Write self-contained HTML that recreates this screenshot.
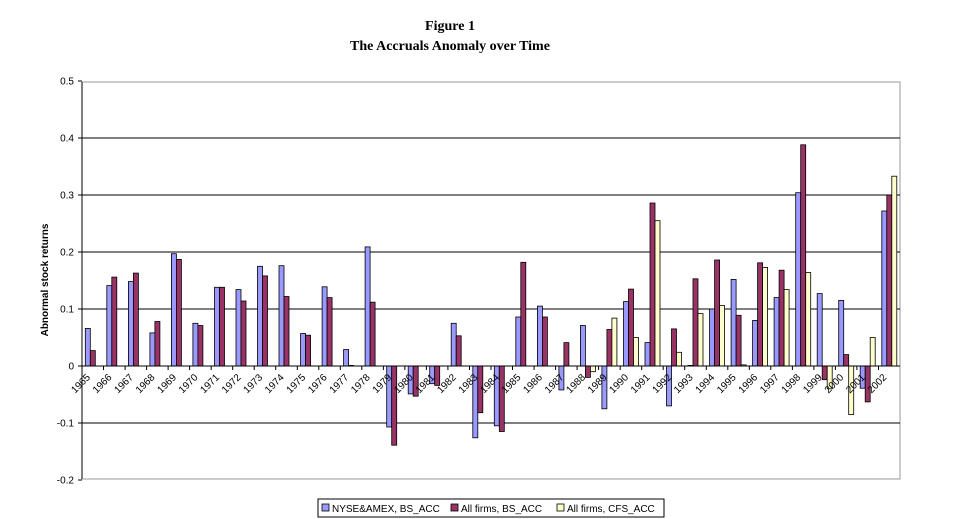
<!DOCTYPE html>
<html><head><meta charset="utf-8"><style>body{margin:0;background:#fff}svg{display:block}</style></head>
<body>
<svg id="c" width="959" height="519" xmlns="http://www.w3.org/2000/svg" font-family="Liberation Sans, sans-serif">
<g id="g"></g>
<text x="450" y="30" text-anchor="middle" style="font-family:'Liberation Serif',serif;font-weight:bold;font-size:14px">Figure 1</text>
<text x="450" y="50" text-anchor="middle" style="font-family:'Liberation Serif',serif;font-weight:bold;font-size:14px">The Accruals Anomaly over Time</text>
<text transform="translate(48,280) rotate(-90)" text-anchor="middle" font-weight="bold" font-size="10">Abnormal stock returns</text>
<rect x="318" y="499" width="346" height="18" fill="#fff" stroke="#000" stroke-width="1"/>
<rect x="322" y="504" width="7" height="7" fill="#9999ff" stroke="#000" stroke-width="0.8"/>
<text x="332" y="512" font-size="10">NYSE&amp;AMEX, BS_ACC</text>
<rect x="451" y="504" width="7" height="7" fill="#993366" stroke="#000" stroke-width="0.8"/>
<text x="461" y="512" font-size="10">All firms, BS_ACC</text>
<rect x="557" y="504" width="7" height="7" fill="#ffffcc" stroke="#000" stroke-width="0.8"/>
<text x="567" y="512" font-size="10">All firms, CFS_ACC</text>
</svg>
<script>
var d=[[.066,.027,0],[.141,.156,0],[.148,.163,0],[.058,.078,0],[.197,.187,0],[.075,.071,0],[.138,.138,0],[.134,.114,0],[.175,.158,0],[.176,.122,0],[.057,.054,0],[.139,.120,0],[.029,.001,0],[.209,.112,0],[-.107,-.139,0],[-.049,-.053,0],[-.031,-.034,0],[.075,.053,0],[-.126,-.082,0],[-.105,-.115,0],[.086,.182,0],[.105,.086,0],[-.042,.041,0],[.071,-.02,-.01],[-.075,.064,.084],[.113,.135,.050],[.041,.286,.255],[-.07,.065,.024],[.001,.153,.092],[.10,.186,.106],[.152,.089,.002],[.080,.181,.173],[.120,.168,.134],[.304,.388,.164],[.127,-.024,-.04],[.115,.02,-.085],[-.039,-.063,.05],[.272,.30,.333]];
var L=82,R=900,Z=366,S=570,s='';
var col=['#9999ff','#993366','#ffffcc'];
s+='<rect x="'+L+'" y="82" width="'+(R-L)+'" height="'+(479-82)+'" fill="#fff" stroke="#999" stroke-width="1"/>';
for(var i=-2;i<=5;i++){var y=Z-i*57;
 if(i<5&&i>-2)s+='<line x1="'+L+'" x2="'+R+'" y1="'+y+'" y2="'+y+'" stroke="#000" stroke-width="1"/>';
 s+='<line x1="'+(L-4)+'" x2="'+L+'" y1="'+y+'" y2="'+y+'" stroke="#000"/>';
 s+='<text x="'+(L-8)+'" y="'+(y+3.5)+'" text-anchor="end" font-size="10">'+(i==0?'0':(i/10).toString())+'</text>';}
s+='<line x1="'+L+'" x2="'+L+'" y1="82" y2="479" stroke="#000"/>';
var w=(R-L)/38;
for(var k=0;k<38;k++){var x0=L+k*w;
 for(var j=0;j<3;j++){var v=d[k][j];if(v===0)continue;var h=Math.abs(v)*S;var y=v>0?Z-h:Z;
  s+='<rect x="'+(x0+3.3+j*5).toFixed(1)+'" y="'+y.toFixed(1)+'" width="5" height="'+h.toFixed(1)+'" fill="'+col[j]+'" stroke="#000" stroke-width="0.8"/>';}
 var cx=x0+w/2;
 s+='<line x1="'+x0.toFixed(1)+'" x2="'+x0.toFixed(1)+'" y1="'+Z+'" y2="'+(Z+4)+'" stroke="#000"/>';
 s+='<text transform="translate('+(cx-2).toFixed(1)+','+(Z+12)+') rotate(-45)" text-anchor="end" font-size="10">'+(1965+k)+'</text>';}
s+='<line x1="'+L+'" x2="'+R+'" y1="'+Z+'" y2="'+Z+'" stroke="#000"/>';
document.getElementById('g').innerHTML=s;
</script>
</body></html>
